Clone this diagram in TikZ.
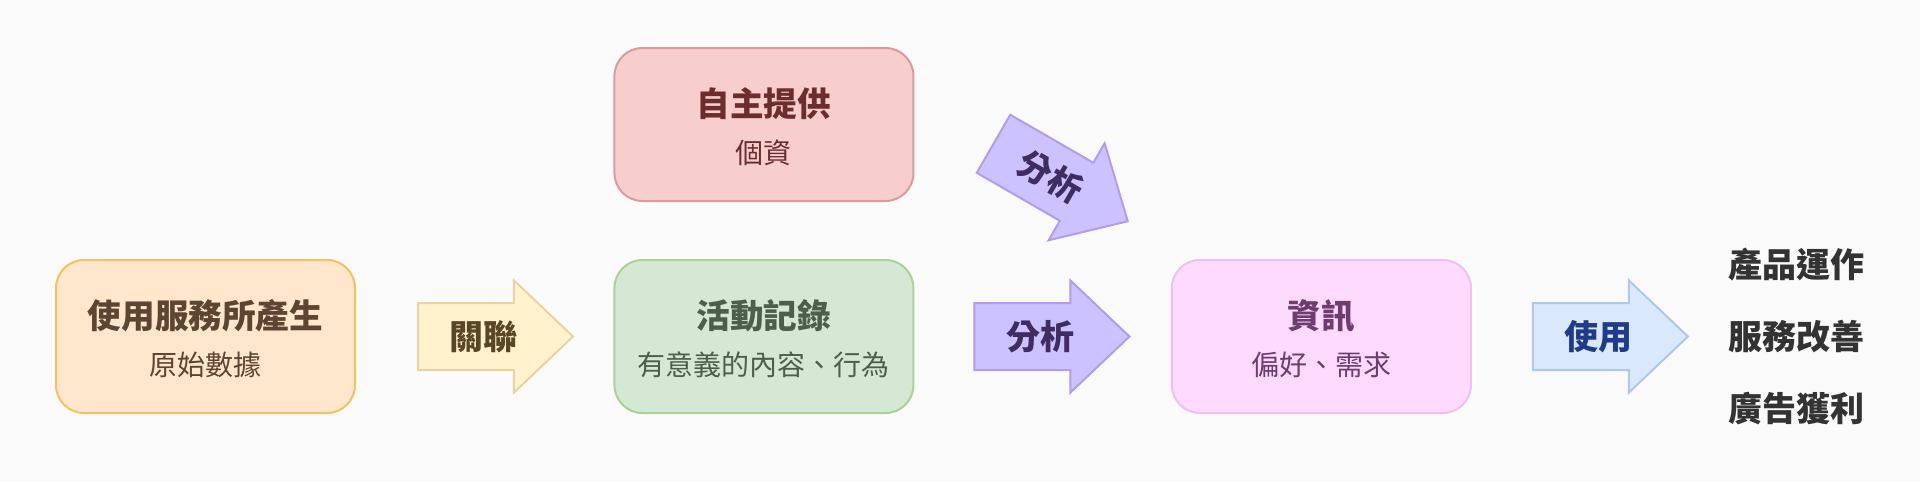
\documentclass[tikz,border=0pt]{standalone}
\usepackage{fontspec}
\setmainfont{Noto Sans CJK TC}
\usetikzlibrary{shapes.arrows, positioning}

\definecolor{bgcol}{HTML}{FAFAFA}
\definecolor{orgfill}{HTML}{FFE6CC}
\definecolor{orgdraw}{HTML}{F2C260}
\definecolor{orgtext}{HTML}{5C4633}
\definecolor{redfill}{HTML}{F8CECC}
\definecolor{reddraw}{HTML}{D99C9C}
\definecolor{redtext}{HTML}{6B2D2D}
\definecolor{grnfill}{HTML}{D5E8D4}
\definecolor{grndraw}{HTML}{ABD19A}
\definecolor{grntext}{HTML}{4D5F4B}
\definecolor{pnkfill}{HTML}{FEDBFE}
\definecolor{pnkdraw}{HTML}{EDBFF2}
\definecolor{pnktext}{HTML}{6E3C6E}
\definecolor{yelfill}{HTML}{FFF2CC}
\definecolor{yeldraw}{HTML}{E8D4A2}
\definecolor{yeltext}{HTML}{5A4524}
\definecolor{purfill}{HTML}{CCC2FF}
\definecolor{purdraw}{HTML}{B29CEB}
\definecolor{purtext}{HTML}{3F2C60}
\definecolor{blufill}{HTML}{DAE8FC}
\definecolor{bludraw}{HTML}{AFC7EA}
\definecolor{blutext}{HTML}{1F3C8C}
\definecolor{outcol}{HTML}{333333}

\newcommand{\boxtitle}{\fontsize{16.8pt}{17pt}\selectfont\bfseries\rule{0pt}{16.7pt}}
\newcommand{\boxsub}{\fontsize{14pt}{17pt}\selectfont}

\tikzset{
    infobox/.style={rectangle, rounded corners=14pt, line width=1pt, minimum width=149.5pt, minimum height=76.5pt, align=center, inner sep=0pt, font=\boxsub},
    flowarrow/.style={single arrow, line width=1pt, minimum height=77.5pt, single arrow head extend=11.25pt, single arrow tip angle=87, inner xsep=0pt, inner ysep=0pt, text height=22.7pt, text depth=9.8pt, font=\fontsize{17pt}{17pt}\selectfont\bfseries, execute at begin node=\hspace*{3pt}, execute at end node=\hspace*{-3pt}},
    outtext/.style={inner sep=0pt, text=outcol, font=\fontsize{17pt}{17pt}\selectfont\bfseries},
}

\begin{document}
\begin{tikzpicture}[x=0.5pt,y=-0.5pt]
\fill[bgcol] (0,0) rectangle (1920,482);
\useasboundingbox (0,0) rectangle (1920,482);

% Data sources
\node[infobox,draw=orgdraw,fill=orgfill,text=orgtext] (raw) at (205.5,336.5) {{\boxtitle 使用服務所產生}\\[6.2pt]原始數據};
\node[flowarrow,draw=yeldraw,fill=yelfill,text=yeltext,right=30.5pt of raw] (link) {關聯};
\node[infobox,draw=grndraw,fill=grnfill,text=grntext,right=19.5pt of link] (act) {{\boxtitle 活動記錄}\\[6.2pt]有意義的內容、行為};
\node[infobox,draw=reddraw,fill=redfill,text=redtext,above=28.5pt of act] (self) {{\boxtitle 自主提供}\\[6.2pt]個資};

% Analysis
\node[flowarrow,draw=purdraw,fill=purfill,text=purtext,rotate=-30,anchor=tip] (anaup) at (1129,222) {分析};
\node[flowarrow,draw=purdraw,fill=purfill,text=purtext,right=29.5pt of act] (ana) {分析};
\node[infobox,draw=pnkdraw,fill=pnkfill,text=pnktext,right=20pt of ana] (info) {{\boxtitle 資訊}\\[6.2pt]偏好、需求};

% Usage
\node[flowarrow,draw=bludraw,fill=blufill,text=blutext,right=30pt of info] (use) {使用};
\node[outtext,right=19.5pt of use] (out2) {服務改善};
\node[outtext,right=19.5pt of use,yshift=35.75pt] (out1) {產品運作};
\node[outtext,right=19.5pt of use,yshift=-36pt] (out3) {廣告獲利};
\end{tikzpicture}
\end{document}
